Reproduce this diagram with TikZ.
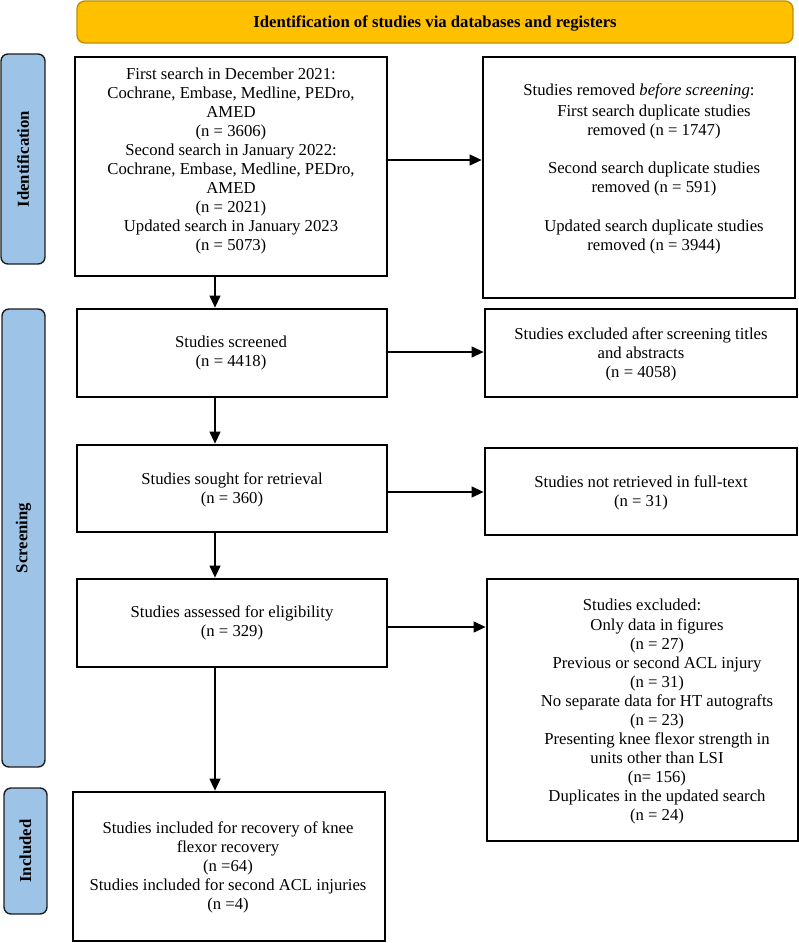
\documentclass[tikz,border=0pt]{standalone}
\usepackage{fontspec}
\setmainfont{Liberation Serif}
\usetikzlibrary{arrows.meta}
\definecolor{bannerfill}{HTML}{FFC000}
\definecolor{bannerdraw}{HTML}{BF9000}
\definecolor{barfill}{HTML}{9DC3E6}
\definecolor{bardraw}{HTML}{1F1F1F}
\begin{document}
\begin{tikzpicture}[x=1pt,y=-1pt,
  box/.style={draw=black, line width=1.6pt, fill=white, inner sep=0pt},
  bar/.style={draw=bardraw, line width=1.4pt, fill=barfill, rounded corners=7pt, inner sep=0pt},
  banner/.style={draw=bannerdraw, line width=1.4pt, fill=bannerfill, rounded corners=8pt, inner sep=0pt},
  txt/.style={align=center, inner sep=0pt, font=\fontsize{16.7}{19}\selectfont},
  boldtxt/.style={inner sep=0pt, font=\fontsize{16.7}{19}\selectfont\bfseries},
  bartxt/.style={rotate=90, inner sep=0pt, font=\fontsize{16.7}{19}\selectfont\bfseries},
  arr/.style={line width=1.2pt, -{Triangle[length=12pt,width=11pt]}, shorten >=0.6pt},
]
\useasboundingbox (0,0) rectangle (799,943);

% banner
\node[banner, minimum width=716pt, minimum height=42pt] (ban) at (435,22) {};
\node[boldtxt] (bant) at (435,23) {Identification of studies via databases and registers};

% side bars
\node[bar, minimum width=44pt, minimum height=210pt] (idb) at (23,159) {};
\node[bartxt] (idt) at (idb.center) {Identification};
\node[bar, minimum width=43pt, minimum height=458pt] (scb) at (23.5,538) {};
\node[bartxt] (sct) at (scb.center) {Screening};
\node[bar, minimum width=43pt, minimum height=126pt] (inb) at (25.5,851) {};
\node[bartxt] (int) at (inb.center) {Included};

% left boxes
\node[box, minimum width=312pt, minimum height=219pt] (b1) at (231,166.5) {};
\node[box, minimum width=310pt, minimum height=88pt] (b2) at (232,353) {};
\node[box, minimum width=310pt, minimum height=87pt] (b3) at (232,488.5) {};
\node[box, minimum width=310pt, minimum height=88pt] (b4) at (232,623) {};
\node[box, minimum width=312pt, minimum height=149pt] (b5) at (229,866.5) {};

% right boxes
\node[box, minimum width=312pt, minimum height=241pt] (r1) at (639,177.5) {};
\node[box, minimum width=312pt, minimum height=88pt] (r2) at (641,353) {};
\node[box, minimum width=312pt, minimum height=87pt] (r3) at (641,491.5) {};
\node[box, minimum width=311pt, minimum height=262pt] (r4) at (642.5,710) {};

% texts left
\node[txt] (t1) at (231,160.5) {First search in December 2021:\\Cochrane, Embase, Medline, PEDro,\\AMED\\(n = 3606)\\Second search in January 2022:\\Cochrane, Embase, Medline, PEDro,\\AMED\\(n = 2021)\\Updated search in January 2023\\(n = 5073)};
\node[txt] (t2) at (231,353) {Studies screened\\(n = 4418)};
\node[txt] (t3) at (232,490) {Studies sought for retrieval\\(n = 360)};
\node[txt] (t4) at (232,623) {Studies assessed for eligibility\\(n = 329)};
\node[txt] (t5) at (228,867.5) {Studies included for recovery of knee\\flexor recovery\\(n =64)\\Studies included for second ACL injuries\\(n =4)};

% texts right
\node[txt] (s1a) at (639,91) {Studies removed \textit{before screening}:};
\node[txt] (s1b) at (654,121.5) {First search duplicate studies\\removed (n = 1747)};
\node[txt] (s1c) at (654,178.5) {Second search duplicate studies\\removed (n = 591)};
\node[txt] (s1d) at (654,237) {Updated search duplicate studies\\removed (n = 3944)};
\node[txt] (s2) at (641,354) {Studies excluded after screening titles\\and abstracts\\(n = 4058)};
\node[txt] (s3) at (641,493) {Studies not retrieved in full-text\\(n = 31)};
\node[txt] (s4a) at (642,605) {Studies excluded:};
\node[txt] (s4b) at (657,721) {Only data in figures\\(n = 27)\\Previous or second ACL injury\\(n = 31)\\No separate data for HT autografts\\(n = 23)\\Presenting knee flexor strength in\\units other than LSI\\(n= 156)\\Duplicates in the updated search\\(n = 24)};

% connectors
\coordinate (ax) at (215,0);
\coordinate (h1) at (0,160);
\coordinate (h2) at (0,352);
\coordinate (h3) at (0,492);
\coordinate (h4) at (0,627);
\draw[arr] (b1.south -| ax) -- (b2.north -| ax);
\draw[arr] (b2.south -| ax) -- (b3.north -| ax);
\draw[arr] (b3.south -| ax) -- (b4.north -| ax);
\draw[arr] (b4.south -| ax) -- (b5.north -| ax);
\draw[arr] (b1.east |- h1) -- (r1.west |- h1);
\draw[arr] (b2.east |- h2) -- (r2.west |- h2);
\draw[arr] (b3.east |- h3) -- (r3.west |- h3);
\draw[arr] (b4.east |- h4) -- (r4.west |- h4);
\end{tikzpicture}
\end{document}
